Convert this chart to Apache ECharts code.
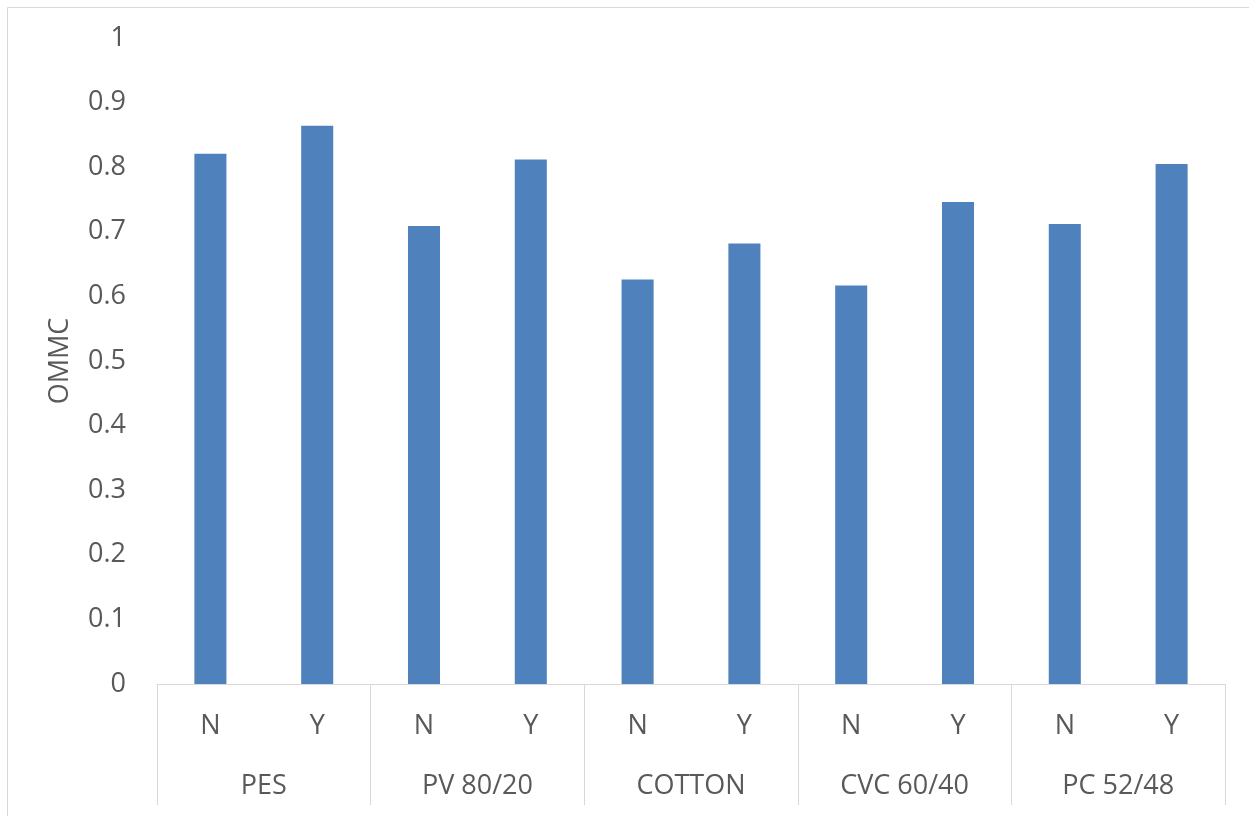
<!DOCTYPE html>
<html>
<head>
<meta charset="utf-8">
<script src="https://cdn.jsdelivr.net/npm/echarts@6/dist/echarts.min.js"></script>
<style>
  html, body { margin: 0; padding: 0; background: #ffffff; }
  #chart { width: 1249px; height: 816px; }
</style>
</head>
<body>
<div id="chart"></div>
<script>
// Fabric groups and treatment labels
var groups = ['PES', 'PV 80/20', 'COTTON', 'CVC 60/40', 'PC 52/48'];
var treatments = ['N', 'Y'];
// OMMC per fabric, untreated (N) and treated (Y)
var ommcN = [0.821, 0.709, 0.626, 0.617, 0.712];
var ommcY = [0.864, 0.812, 0.682, 0.746, 0.805];
// Y axis ticks
var yMin = 0, yMax = 1, yStep = 0.1;

var TEXT = '#595959';
var GRIDLINE = '#d9d9d9';
var FONT = 'Open Sans';
var FS = 27;

// Interleave the two treatments inside each fabric group
var innerLabels = [];
var values = [];
groups.forEach(function (g, i) {
  innerLabels.push(treatments[0]); values.push(ommcN[i]);
  innerLabels.push(treatments[1]); values.push(ommcY[i]);
});

var chart = echarts.init(document.getElementById('chart'), null, { renderer: 'canvas' });
chart.setOption({
  backgroundColor: '#ffffff',
  animation: false,
  textStyle: { fontFamily: FONT },
  graphic: [{
    type: 'rect',
    shape: { x: 7.5, y: 7.5, width: 1260, height: 830 },
    style: { fill: 'none', stroke: GRIDLINE, lineWidth: 1 },
    silent: true
  }],
  grid: { left: 157, right: 24, top: 38, bottom: 132, containLabel: false },
  xAxis: [{
    type: 'category',
    data: innerLabels,
    position: 'bottom',
    axisLine: { show: true, lineStyle: { color: GRIDLINE, width: 1 } },
    axisTick: { show: false },
    axisLabel: { color: TEXT, fontSize: FS, fontFamily: FONT, margin: 29, lineHeight: 26, interval: 0 },
    splitLine: { show: false }
  }, {
    type: 'category',
    data: groups,
    position: 'bottom',
    axisLine: { show: false },
    axisTick: { show: true, length: 121, inside: false, lineStyle: { color: GRIDLINE, width: 1 } },
    axisLabel: { color: TEXT, fontSize: FS, fontFamily: FONT, margin: 89, lineHeight: 26, interval: 0 },
    splitLine: { show: false }
  }],
  yAxis: {
    type: 'value',
    min: yMin, max: yMax, interval: yStep,
    name: 'OMMC',
    nameLocation: 'middle',
    nameRotate: 90,
    nameGap: 83,
    nameTextStyle: { color: TEXT, fontSize: FS, fontFamily: FONT },
    axisLine: { show: false },
    axisTick: { show: false },
    splitLine: { show: false },
    axisLabel: {
      color: TEXT, fontSize: FS, fontFamily: FONT, margin: 31,
      formatter: function (v) { return String(+v.toFixed(1)); }
    }
  },
  series: [{
    type: 'bar',
    xAxisIndex: 0,
    data: values,
    barWidth: '30%',
    itemStyle: { color: '#4f81bd' }
  }]
});
</script>
</body>
</html>
